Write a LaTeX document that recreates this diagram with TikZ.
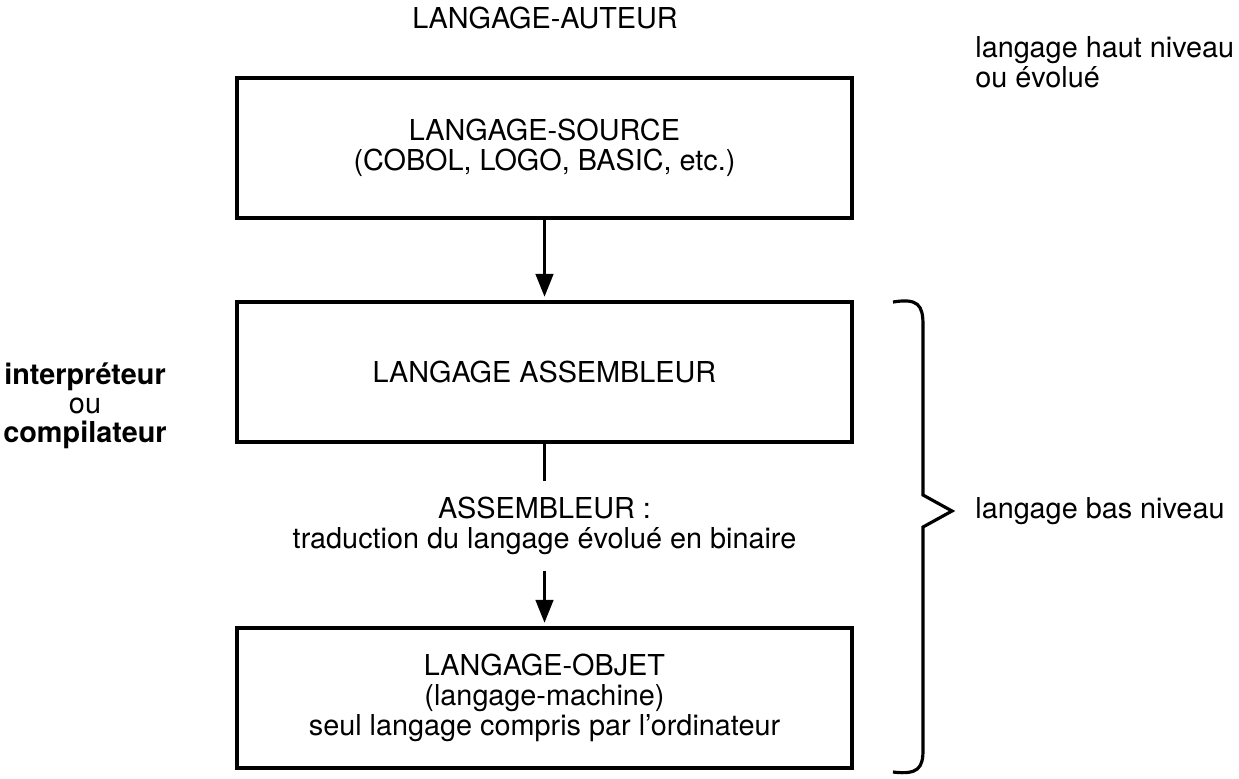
\documentclass[tikz,border=0pt]{standalone}
\usepackage{fontspec}
\setmainfont{TeX Gyre Heros}
\usetikzlibrary{arrows.meta, positioning}
\tikzset{
    langbox/.style={draw, rectangle, minimum width=12.3cm, minimum height=2.8cm, line width=2pt, align=center},
    flowarrow/.style={-{Triangle[length=13pt, width=10pt]}, line width=1.6pt, shorten >=2pt},
    flowline/.style={line width=1.6pt},
    sidelabel/.style={align=left, anchor=west, inner sep=0pt},
    bracepath/.style={line width=1.8pt, line join=miter},
}

\begin{document}
\begin{tikzpicture}[x=0.02cm, y=-0.02cm, font=\fontsize{16.4}{17}\selectfont]
    \useasboundingbox (0,0) rectangle (1239,778);

    % Title
    \node (auteur) at (545,18) {LANGAGE-AUTEUR};

    % Boxes
    \node[langbox] (source) at (544.5,148) {LANGAGE-SOURCE\\(COBOL, LOGO, BASIC, etc.)};
    \node[langbox] (assembleur) at (544.5,372) {LANGAGE ASSEMBLEUR};
    \node[langbox] (objet) at (544.5,698) {LANGAGE-OBJET\\(langage-machine)\\seul langage compris par l’ordinateur};

    % Translation step
    \node[align=center, inner ysep=9pt] (traduction) at (544.5,526)
          {ASSEMBLEUR :\\traduction du langage évolué en binaire};

    % Connections
    \draw[flowarrow] (source) -- (assembleur);
    \draw[flowline] (assembleur) -- (traduction);
    \draw[flowarrow] (traduction) -- (objet);

    % Side labels
    \node[align=center, font=\fontsize{16.4}{16.5}\selectfont] (outil) at (85,406)
          {\textbf{interpréteur}\\ou\\\textbf{compilateur}};
    \node[sidelabel] (haut) at (975,62) {langage haut niveau\\ou évolué};
    \node[sidelabel] (bas) at (975,511) {langage bas niveau};

    % Brace
    \draw[bracepath] (893,302) .. controls (918,298) and (923,305) .. (923,325)
          -- (923,495) -- (952,511) -- (923,527) -- (923,750)
          .. controls (923,768) and (918,775) .. (893,772);
\end{tikzpicture}
\end{document}
